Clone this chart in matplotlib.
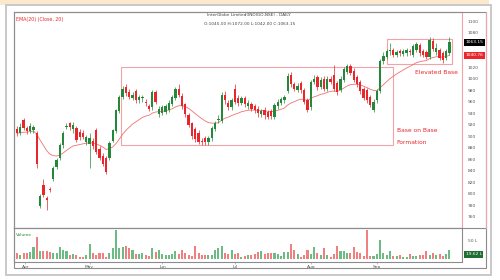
import matplotlib
matplotlib.use("Agg")
import matplotlib.pyplot as plt
import numpy as np
import pandas as pd
from matplotlib.lines import Line2D
from matplotlib.patches import Rectangle
from matplotlib.transforms import blended_transform_factory

# daily OHLC (Apr -> Sep)
opens = [912, 905, 928, 914, 908, 910, 905, 778, 815, 792,
         808, 826, 846, 862, 884, 915, 922, 912, 914, 907,
         905, 890, 886, 892, 910, 878, 866, 862, 862, 892,
         908, 944, 968, 985, 976, 966, 978, 962, 966, 960,
         952, 950, 976, 938, 940, 942, 945, 955, 966, 982,
         970, 955, 936, 922, 912, 905, 892, 896, 889, 896,
         912, 928, 926, 972, 958, 950, 982, 966, 958, 966,
         952, 956, 952, 948, 938, 946, 942, 944, 934, 952,
         958, 962, 978, 1006, 990, 980, 992, 980, 962, 950,
         994, 1002, 986, 1000, 982, 1000, 1006, 992, 980, 998,
         1012, 1022, 1014, 1002, 994, 982, 980, 968, 946, 962,
         978, 1030, 1038, 1048, 1050, 1042, 1048, 1043, 1044, 1048,
         1042, 1050, 1058, 1048, 1046, 1038, 1066, 1046, 1050, 1044,
         1036, 1045]
highs = [918, 922, 932, 918, 922, 920, 908, 800, 825, 796,
         812, 848, 862, 888, 908, 922, 925, 924, 918, 912,
         910, 902, 905, 897, 914, 882, 870, 866, 892, 913,
         948, 972, 988, 990, 982, 976, 982, 972, 972, 964,
         956, 980, 980, 952, 954, 956, 962, 972, 986, 990,
         975, 958, 940, 925, 916, 910, 896, 900, 900, 918,
         926, 936, 976, 978, 962, 966, 990, 972, 970, 970,
         962, 960, 955, 952, 948, 950, 946, 948, 957, 964,
         968, 972, 1010, 1012, 995, 992, 996, 984, 966, 998,
         1006, 1006, 1002, 1004, 1004, 1005, 1024, 996, 1004, 1020,
         1026, 1026, 1018, 1006, 998, 986, 984, 972, 964, 982,
         1034, 1046, 1052, 1062, 1054, 1050, 1052, 1052, 1054, 1052,
         1060, 1064, 1062, 1052, 1050, 1072, 1070, 1062, 1054, 1048,
         1052, 1072]
lows = [900, 902, 910, 903, 905, 906, 845, 774, 794, 772,
        803, 822, 843, 858, 880, 912, 910, 905, 890, 893,
        895, 885, 845, 878, 868, 858, 848, 834, 858, 889,
        905, 940, 964, 970, 965, 962, 958, 958, 960, 952,
        944, 946, 955, 934, 936, 938, 942, 952, 962, 968,
        948, 934, 916, 895, 890, 886, 885, 884, 885, 892,
        908, 922, 922, 955, 946, 946, 956, 952, 954, 950,
        948, 944, 940, 934, 934, 930, 930, 930, 930, 948,
        954, 958, 975, 986, 978, 976, 975, 956, 942, 946,
        990, 980, 982, 978, 978, 990, 978, 972, 976, 994,
        1008, 1006, 994, 986, 974, 962, 958, 950, 942, 958,
        975, 1026, 1034, 1042, 1038, 1038, 1040, 1040, 1040, 1042,
        1038, 1046, 1040, 1038, 1034, 1034, 1048, 1042, 1032, 1028,
        1032, 1042]
closes = [905, 915, 914, 908, 918, 916, 852, 795, 798, 788,
          806, 845, 858, 884, 905, 918, 916, 920, 894, 898,
          898, 898, 896, 882, 872, 862, 852, 838, 888, 910,
          945, 968, 982, 975, 968, 972, 962, 968, 967, 958,
          948, 976, 960, 948, 950, 952, 958, 968, 982, 972,
          952, 938, 920, 900, 895, 890, 890, 890, 896, 914,
          922, 930, 972, 962, 950, 962, 960, 958, 966, 955,
          958, 948, 946, 940, 944, 936, 934, 935, 954, 960,
          964, 968, 1005, 990, 982, 988, 980, 960, 946, 995,
          1000, 985, 998, 982, 1000, 994, 982, 976, 1000, 1016,
          1022, 1010, 998, 990, 978, 966, 962, 954, 960, 978,
          1030, 1040, 1048, 1049, 1042, 1047, 1044, 1048, 1050, 1047,
          1056, 1060, 1045, 1042, 1038, 1068, 1052, 1054, 1036, 1032,
          1048, 1063.15]
# volume in lakhs
volumes = [15, 10, 15, 17, 19, 32, 59, 22, 21, 21, 19, 15,
           15, 31, 25, 22, 10, 13, 10, 4, 6, 10, 39,
           15, 10, 15, 17, 6, 17, 28, 78,
           28, 31, 34, 28, 24, 12, 12, 15, 10, 8, 28, 19, 24, 13, 10, 10,
           13, 22, 13, 24, 15, 10, 8, 34, 15, 10, 10, 10, 10, 24, 28, 34,
           15, 13, 24, 12, 15, 4,
           8, 10, 10, 12, 19, 22, 13, 15, 17, 15, 13, 9, 19, 19, 39,
           25, 13, 6, 10, 24, 13, 31, 15, 10, 28, 10, 6, 13, 34, 22, 22,
           17, 15, 33, 19, 15, 9, 78, 8, 8, 13, 50,
           15, 10, 21, 8, 8, 10, 6, 6, 13, 8, 8, 10, 10, 22, 10, 15, 10,
           13, 9, 12, 24]

month_labels = ["Apr", "May", "Jun", "Jul", "Aug", "Sep"]
month_pos = [2.5, 22, 44, 66, 89, 109]
price_ticks = [760, 780, 800, 820, 840, 860, 880, 900, 920, 940,
               960, 980, 1000, 1020, 1040, 1060, 1080, 1100]
hidden_ticks = [1040, 1060]  # covered by the price boxes on the original

GREEN = "#23883a"
RED = "#e8262b"
PALE_GREEN = "#6dbb84"
PALE_RED = "#f07f80"
PINK = "#f3a3a6"

W, H = 500, 280


def fx(px):
    return px / W


def fy(py):
    return 1 - py / H


o = np.array(opens, dtype=float)
h = np.array(highs, dtype=float)
l = np.array(lows, dtype=float)
c = np.array(closes, dtype=float)
v = np.array(volumes, dtype=float)
idx = np.arange(len(c))
up = c >= o
ema = pd.Series(c).ewm(span=20, adjust=False).mean()

fig = plt.figure(figsize=(5, 2.8), dpi=100)
fig.patch.set_facecolor("white")

# frames around the chart
fig.add_artist(Rectangle((0, fy(4.5)), fx(489), 4.5 / H, transform=fig.transFigure,
                         color="#fce8cc", lw=0))
fig.add_artist(Rectangle((fx(6), fy(275)), fx(491) - fx(6), fy(5) - fy(275),
                         transform=fig.transFigure, fill=False, ec="#c9c9c9", lw=1.4))
fig.add_artist(Rectangle((fx(14), fy(268)), fx(486) - fx(14), fy(12) - fy(268),
                         transform=fig.transFigure, fill=False, ec="#8c8c8c", lw=0.8))

ax = fig.add_axes([fx(14), fy(228), fx(462) - fx(14), fy(12) - fy(228)])
axv = fig.add_axes([fx(14), fy(262), fx(462) - fx(14), fy(228) - fy(262)], sharex=ax)

# price panel
cols = np.where(up, GREEN, RED)
ax.vlines(idx, l, h, colors=cols, lw=0.5, zorder=3)
ax.bar(idx, np.maximum(np.abs(c - o), 1.2), bottom=np.minimum(o, c), width=0.7,
       color=cols, lw=0, zorder=4)
ax.plot(idx, ema, color="#f07272", lw=0.6, zorder=2)

ax.add_patch(Rectangle((31.5, 884), 113.9 - 31.5, 1020 - 884, fill=False,
                       ec=PINK, lw=0.8, zorder=1))
ax.add_patch(Rectangle((112.1, 1026), 131.8 - 112.1, 1069 - 1026, fill=False,
                       ec=PINK, lw=0.8, zorder=1))
ax.text(120.5, 1010, "Elevated Base", color=RED, fontsize=4.3, ha="left", va="center")
ax.text(115, 909, "Base on Base", color=RED, fontsize=4.3, ha="left", va="center")
ax.text(115, 888, "Formation", color=RED, fontsize=4.3, ha="left", va="center")

ax.set_xlim(-0.9, 134.8)
ax.set_ylim(740, 1116)
ax.yaxis.tick_right()
ax.set_yticks(price_ticks)
ax.set_yticklabels(["" if t in hidden_ticks else str(t) for t in price_ticks])
ax.tick_params(axis="y", length=0, pad=4, labelsize=3.2, labelcolor="#555555")
ax.tick_params(axis="x", length=0, labelbottom=False)
for side in ["left", "top", "bottom"]:
    ax.spines[side].set_color("#8c8c8c")
    ax.spines[side].set_linewidth(0.8)
ax.spines["right"].set_color(PINK)
ax.spines["right"].set_linewidth(0.8)

tr = blended_transform_factory(ax.transAxes, ax.transData)
ax.text(1.008, c[-1], "1063.15", transform=tr, color="white", fontsize=3.2,
        ha="left", va="center",
        bbox=dict(boxstyle="square,pad=0.35", fc="black", ec="none"))
ax.text(1.008, ema.iloc[-1], f"{ema.iloc[-1]:.2f}", transform=tr, color="white",
        fontsize=3.2, ha="left", va="center",
        bbox=dict(boxstyle="square,pad=0.35", fc=RED, ec="none"))

ax.text(0.004, 0.975, "EMA(20) (Close, 20)", transform=ax.transAxes, color=RED,
        fontsize=3.4, ha="left", va="top")
ax.text(0.525, 0.995, "InterGlobe Limited(INDIGO,NSE) - DAILY", transform=ax.transAxes,
        color="#444444", fontsize=3.1, ha="center", va="top")
ax.text(0.525, 0.955, "O:1045.00 H:1072.00 L:1042.00 C:1063.15", transform=ax.transAxes,
        color="#444444", fontsize=3.1, ha="center", va="top")

# volume panel
vcols = np.where(up, PALE_GREEN, PALE_RED)
axv.bar(idx, v, width=0.62, color=vcols, lw=0)
axv.set_ylim(-8, 82)
axv.yaxis.tick_right()
axv.set_yticks([50])
axv.set_yticklabels(["50 L"])
axv.tick_params(axis="y", length=0, pad=4, labelsize=3.2, labelcolor="#555555")
axv.set_xticks(month_pos)
axv.set_xticklabels(month_labels)
axv.tick_params(axis="x", length=1.2, width=0.4, pad=1, labelsize=3.2,
                labelcolor="#555555", color="#8c8c8c")
for side in ["left", "top", "bottom", "right"]:
    axv.spines[side].set_color("#8c8c8c")
    axv.spines[side].set_linewidth(0.8)
axv.text(0.004, 0.86, "Volume", transform=axv.transAxes, color=GREEN,
         fontsize=3.2, ha="left", va="top")
trv = blended_transform_factory(axv.transAxes, axv.transData)
axv.text(1.008, 12, "19.62 L", transform=trv, color="white", fontsize=3.2,
         ha="left", va="center",
         bbox=dict(boxstyle="square,pad=0.35", fc="#1f6f33", ec="none"))

# divider between price and volume extends through the scale column
fig.add_artist(Line2D([fx(14), fx(486)], [fy(228), fy(228)], transform=fig.transFigure,
                      color="#8c8c8c", lw=0.8))
fig.add_artist(Line2D([fx(486), fx(486)], [fy(228), fy(12)], transform=fig.transFigure,
                      color=PINK, lw=0.8))

fig.savefig("out.png", dpi=100)
